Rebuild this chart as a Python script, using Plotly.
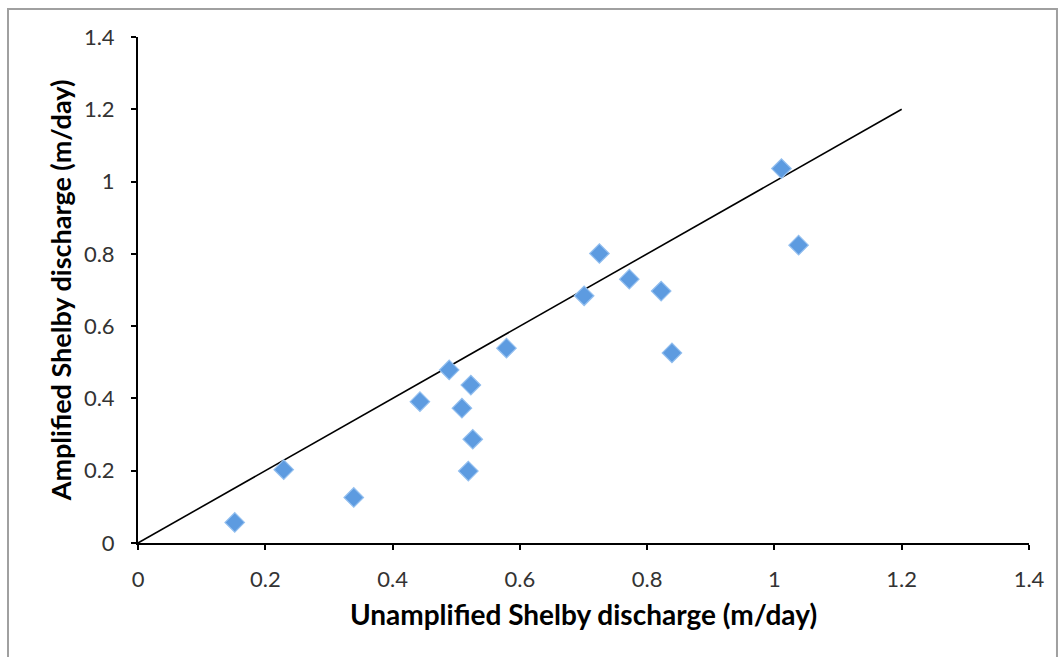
import plotly.graph_objects as go

# Shelby discharge measurements (m/day)
unamplified = [0.152, 0.229, 0.339, 0.443, 0.489, 0.509, 0.523, 0.526, 0.519,
               0.579, 0.701, 0.725, 0.772, 0.822, 0.839, 1.011, 1.038]
amplified = [0.057, 0.203, 0.126, 0.391, 0.479, 0.373, 0.437, 0.287, 0.199,
             0.539, 0.684, 0.801, 0.730, 0.697, 0.526, 1.036, 0.824]

# 1:1 reference line
line_x = [0.0, 1.2]
line_y = [0.0, 1.2]

tick_vals = [0, 0.2, 0.4, 0.6, 0.8, 1.0, 1.2, 1.4]
tick_text = ["0", "0.2", "0.4", "0.6", "0.8", "1", "1.2", "1.4"]

FONT = "Lato, 'Open Sans', sans-serif"

fig = go.Figure()

fig.add_trace(go.Scatter(
    x=line_x, y=line_y, mode="lines",
    line=dict(color="black", width=1.6),
    hoverinfo="skip", showlegend=False,
))

fig.add_trace(go.Scatter(
    x=unamplified, y=amplified, mode="markers",
    marker=dict(symbol="diamond", size=15, color="#5D9BE0",
                line=dict(color="#93BFEF", width=1.2)),
    showlegend=False,
))

axis_common = dict(
    range=[0, 1.4],
    tickmode="array",
    tickvals=tick_vals,
    ticktext=tick_text,
    showgrid=False,
    zeroline=False,
    showline=True,
    linecolor="black",
    linewidth=2,
    ticks="outside",
    ticklen=5,
    tickwidth=2,
    tickcolor="black",
    tickfont=dict(family=FONT, size=22, color="#333333"),
    fixedrange=True,
)

fig.update_layout(
    width=1059, height=657,
    margin=dict(l=138, r=30, t=37, b=114),
    paper_bgcolor="white",
    plot_bgcolor="white",
    xaxis=dict(**axis_common,
               ticklabelstandoff=11,
               title=dict(text="<b>Unamplified Shelby discharge (m/day)</b>",
                          font=dict(family=FONT, size=28, color="black"),
                          standoff=14)),
    yaxis=dict(**axis_common,
               ticklabelstandoff=12,
               title=dict(text="<b>Amplified Shelby discharge (m/day)</b>",
                          font=dict(family=FONT, size=27, color="black"),
                          standoff=4)),
    shapes=[
        dict(type="rect", xref="paper", yref="paper",
             x0=-0.1459, x1=1.0314, y0=-0.26, y1=1.0553,
             line=dict(color="#A0A0A0", width=2), fillcolor="rgba(0,0,0,0)",
             layer="below"),
    ],
)

fig.write_html("out.html")
